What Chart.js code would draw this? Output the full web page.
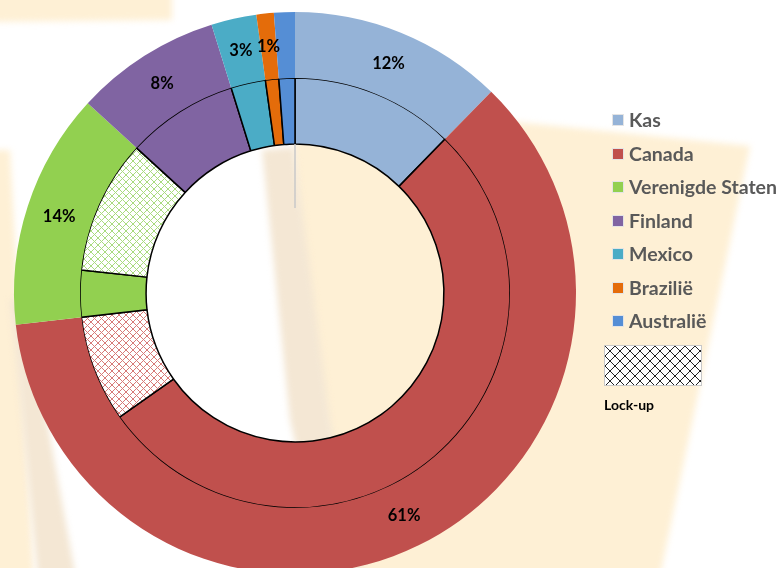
<!DOCTYPE html>
<html>
<head>
<meta charset="utf-8">
<script src="https://cdn.jsdelivr.net/npm/chart.js@4.4.0/dist/chart.umd.min.js"></script>
<style>
  html, body { margin: 0; padding: 0; width: 779px; height: 568px; overflow: hidden; background: #fff; }
  #wrap { position: absolute; left: 0; top: 0; width: 779px; height: 586px; }
  #legend { position: absolute; left: 0; top: 0; width: 779px; height: 568px; font-family: Lato, "Open Sans", sans-serif; }
  .item { position: absolute; left: 612px; height: 22px; line-height: 22px; font-weight: bold; font-size: 19.5px; color: #595959; white-space: nowrap; }
  .box { display: inline-block; width: 10px; height: 10px; margin-right: 5px; vertical-align: 1px; border: 1px solid #e4e4e4; }
  #lockBox { position: absolute; left: 604px; top: 345px; border: 1px solid #c8c8c8; }
  #lockText { position: absolute; left: 604px; top: 396px; font-weight: bold; font-size: 14px; color: #000; }
</style>
</head>
<body>
<div id="wrap"><canvas id="chart" width="779" height="586"></canvas></div>
<div id="legend"></div>

<script>
const categories = ['Kas', 'Canada', 'Verenigde Staten', 'Finland', 'Mexico', 'Brazilië', 'Australië'];
const colors = ['#95B3D7', '#C0504D', '#92D050', '#8064A2', '#4BACC6', '#E46C0A', '#558ED5'];
const hatchColors = ['#95B3D7', '#D77A78', '#A9DB7F', '#8064A2', '#4BACC6', '#E46C0A', '#558ED5'];

// outer ring: share per country (%)
const totalShare = [12.3, 60.9, 13.6, 8.4, 2.6, 1.0, 1.2];
// inner ring: free part and lock-up part of each country (%)
const freeShare = [12.3, 52.9, 3.5, 8.4, 2.6, 1.0, 1.2];
const lockupShare = [0, 8.0, 10.1, 0, 0, 0, 0];

const hiddenLabels = ['Australië'];
const lockupLabel = 'Lock-up';


function hatch(color, size) {
    const c = document.createElement('canvas');
    c.width = size;
    c.height = size;
    const g = c.getContext('2d');
    g.fillStyle = '#fff';
    g.fillRect(0, 0, size, size);
    g.strokeStyle = color;
    g.lineWidth = 1;
    g.beginPath();
    g.moveTo(-1, -1); g.lineTo(size + 1, size + 1);
    g.moveTo(size + 1, -1); g.lineTo(-1, size + 1);
    g.stroke();
    return g.createPattern(c, 'repeat');
}

// build the inner ring from the two arrays
let innerValues = [];
let innerColors = [];
categories.forEach((name, i) => {
    innerValues.push(freeShare[i]);
    innerColors.push(colors[i]);
    if (lockupShare[i] > 0) {
        innerValues.push(lockupShare[i]);
        innerColors.push(hatch(hatchColors[i], 7));
    }
});


// faded logo in the background
const backdrop = {
    id: 'backdrop',
    beforeDraw(chart) {
        const ctx = chart.ctx;
        ctx.save();
        ctx.fillStyle = '#fff';
        ctx.fillRect(0, 0, chart.width, chart.height);
        ctx.filter = 'blur(3px)';

        const shapes = [
            { fill: '#FEF0D5', pts: [[-10, -10], [172, -10], [172, 20], [-10, 22]] },
            { fill: '#FEF0D5', pts: [[294, 99], [750, 146], [655, 600], [360, 600], [300, 300], [294, 147]] },
            { fill: '#F4E7D4', pts: [[262, 150], [294, 147], [330, 420], [370, 600], [330, 600], [290, 420]] },
            { fill: '#FEF0D5', pts: [[-10, 150], [10, 150], [35, 600], [-10, 600]] },
            { fill: '#F4E7D4', pts: [[10, 300], [25, 300], [80, 600], [40, 600]] }
        ];
        shapes.forEach(s => {
            ctx.fillStyle = s.fill;
            ctx.beginPath();
            s.pts.forEach((p, k) => k ? ctx.lineTo(p[0], p[1]) : ctx.moveTo(p[0], p[1]));
            ctx.closePath();
            ctx.fill();
        });
        ctx.restore();
    }
};

const pctLabels = {
    id: 'pctLabels',
    afterDatasetsDraw(chart) {
        const ctx = chart.ctx;
        const total = totalShare.reduce((a, b) => a + b, 0);
        const meta = chart.getDatasetMeta(0);
        ctx.save();
        ctx.font = 'bold 16.5px Lato, "Open Sans", sans-serif';
        ctx.fillStyle = '#000';
        ctx.textAlign = 'center';
        ctx.textBaseline = 'middle';
        meta.data.forEach((arc, i) => {
            if (hiddenLabels.includes(categories[i])) return;
            const p = arc.tooltipPosition();
            ctx.fillText(Math.round(totalShare[i] / total * 100) + '%', p.x, p.y);
        });

        // thin leader line at the start of the rings
        const first = chart.getDatasetMeta(1).data[0];
        ctx.strokeStyle = '#c9c9c9';
        ctx.lineWidth = 1.5;
        ctx.beginPath();
        ctx.moveTo(first.x, first.y - first.innerRadius);
        ctx.lineTo(first.x, first.y - first.innerRadius + 64);
        ctx.stroke();
        ctx.restore();
    }
};


const myChart = new Chart(document.getElementById('chart'), {
    type: 'doughnut',
    data: {
        labels: categories,
        datasets: [
            {
                data: totalShare,
                backgroundColor: colors,
                borderWidth: 0
            },
            {
                data: innerValues,
                backgroundColor: innerColors,
                borderColor: '#000',
                borderWidth: 1.5
            }
        ]
    },
    options: {
        responsive: false,
        devicePixelRatio: 1,
        animation: false,
        events: [],
        cutout: '53%',
        layout: { padding: { left: 14, top: 12, right: 203, bottom: 12 } },
        plugins: {
            legend: { display: false },
            tooltip: { enabled: false }
        }
    },
    plugins: [backdrop, pctLabels]
});


// legend
const legend = document.getElementById('legend');
categories.forEach((name, i) => {
    let row = document.createElement('div');
    row.className = 'item';
    row.style.top = (109 + i * 33.5) + 'px';
    row.innerHTML = `<span class="box" style="background:${colors[i]}"></span>${name}`;
    legend.appendChild(row);
});

let lockBox = document.createElement('canvas');
lockBox.id = 'lockBox';
lockBox.width = 96;
lockBox.height = 39;
let lg = lockBox.getContext('2d');
lg.fillStyle = hatch('#222', 10);
lg.fillRect(0, 0, 96, 39);
legend.appendChild(lockBox);

let lockText = document.createElement('div');
lockText.id = 'lockText';
lockText.textContent = lockupLabel;
legend.appendChild(lockText);
</script>
</body>
</html>
